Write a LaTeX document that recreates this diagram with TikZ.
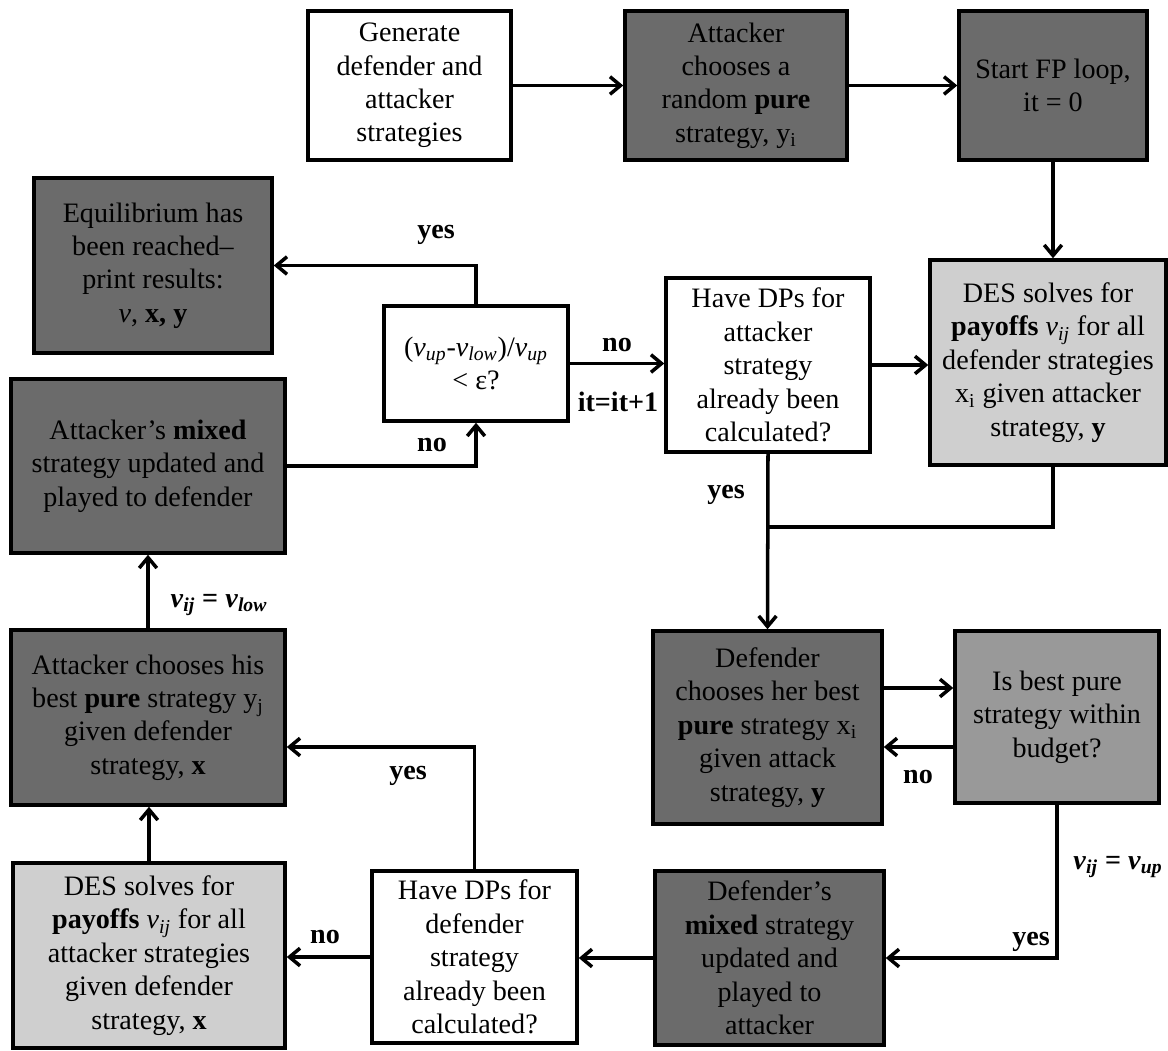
\documentclass[tikz,border=0pt]{standalone}
\usepackage{fontspec}
\setmainfont{Liberation Serif}
\usetikzlibrary{arrows.meta}
\newcommand{\vsub}[1]{\textit{v}\textsubscript{\textit{#1}}}
\definecolor{darkfill}{gray}{0.42}
\definecolor{midfill}{gray}{0.60}
\definecolor{lightfill}{gray}{0.81}
\tikzset{
  box/.style={draw, line width=2pt, align=center, inner sep=1pt, font=\fontsize{16}{19}\selectfont},
  whitebox/.style={box, fill=white},
  darkbox/.style={box, fill=darkfill},
  midbox/.style={box, fill=midfill},
  lightbox/.style={box, fill=lightfill},
  lbl/.style={font=\fontsize{16}{19}\selectfont\bfseries, inner sep=1pt},
  flow/.style={->, line width=2pt}
}

\begin{document}
\begin{tikzpicture}[>={Straight Barb[length=6pt,width=10pt]}]
        \useasboundingbox (0,0) rectangle (23.36,21);

        % Top row
        \node[whitebox, minimum width=4.06cm, minimum height=2.98cm] (gen) at (8.19,19.29) {Generate\\defender and\\attacker\\strategies};
        \node[darkbox, minimum width=4.44cm, minimum height=2.98cm] (atk) at (14.72,19.29) {Attacker\\chooses a\\random \textbf{pure}\\strategy, y\textsubscript{i}};
        \node[darkbox, minimum width=3.76cm, minimum height=2.98cm] (start) at (21.06,19.29) {Start FP loop,\\it = 0};

        % Second row
        \node[darkbox, minimum width=4.76cm, minimum height=3.5cm] (equil) at (3.06,15.69) {Equilibrium has\\been reached–\\print results:\\\textit{v}, \textbf{x, y}};
        \node[whitebox, minimum width=3.68cm, minimum height=2.3cm] (cond) at (9.52,13.73) {(\vsub{up}-\vsub{low})/\vsub{up}\\< ε?};
        \node[whitebox, minimum width=4.08cm, minimum height=3.48cm] (dpa) at (15.36,13.7) {Have DPs for\\attacker\\strategy\\already been\\calculated?};
        \node[lightbox, minimum width=4.72cm, minimum height=4.1cm] (desd) at (20.96,13.75) {DES solves for\\\textbf{payoffs} \vsub{ij} for all\\defender strategies\\x\textsubscript{i} given attacker\\strategy, \textbf{y}};
        \node[darkbox, minimum width=5.48cm, minimum height=3.48cm] (amix) at (2.96,11.68) {Attacker’s \textbf{mixed}\\strategy updated and\\played to defender};

        % Third row
        \node[darkbox, minimum width=5.48cm, minimum height=3.5cm] (abest) at (2.96,6.65) {Attacker chooses his\\best \textbf{pure} strategy y\textsubscript{j}\\given defender\\strategy, \textbf{x}};
        \node[darkbox, minimum width=4.58cm, minimum height=3.86cm] (dbest) at (15.35,6.45) {Defender\\chooses her best\\\textbf{pure} strategy x\textsubscript{i}\\given attack\\strategy, \textbf{y}};
        \node[midbox, minimum width=4.08cm, minimum height=3.44cm] (budget) at (21.14,6.66) {Is best pure\\strategy within\\budget?};

        % Bottom row
        \node[lightbox, minimum width=5.44cm, minimum height=3.7cm] (desa) at (2.98,1.89) {DES solves for\\\textbf{payoffs} \vsub{ij} for all\\attacker strategies\\given defender\\strategy, \textbf{x}};
        \node[whitebox, minimum width=4.1cm, minimum height=3.44cm] (dpd) at (9.49,1.86) {Have DPs for\\defender\\strategy\\already been\\calculated?};
        \node[darkbox, minimum width=4.58cm, minimum height=3.48cm] (dmix) at (15.39,1.84) {Defender’s\\\textbf{mixed} strategy\\updated and\\played to\\attacker};

        % Helper points
        \coordinate (join) at (15.36,10.46); % yes-branch meets DES output
        \coordinate (toBudget) at (21.14,7.24);
        \coordinate (fromBudget) at (21.14,6.06);
        \coordinate (toAbest) at (2.96,6.06);

        % Top row arrows
        \draw[flow] (gen) -- (atk);
        \draw[flow] (atk) -- (start);
        \draw[flow] (start) -- (start |- desd.north);

        % Attacker side of the loop
        \draw[flow] (cond.east) -- (cond.east -| dpa.west);
        \draw[flow] (dpa.east) -- (dpa.east -| desd.west);
        \draw[flow] (cond.north) |- (equil.east);
        \draw[flow] (amix.east) -| (cond.south);
        \draw[line width=2pt] (start |- desd.south) |- (join);
        \draw[flow] (dpa.south) -- (dbest.north);

        % Defender best response and budget check
        \draw[flow] (toBudget -| dbest.east) -- (toBudget -| budget.west);
        \draw[flow] (fromBudget -| budget.west) -- (fromBudget -| dbest.east);
        \draw[flow] (budget.south) |- (dmix.east);

        % Defender side of the loop
        \draw[flow] (dmix.west) -- (dmix.west -| dpd.east);
        \draw[flow] (dpd.west) -- (dpd.west -| desa.east);
        \draw[flow] (dpd.north) |- (toAbest -| abest.east);
        \draw[flow] (desa.north) -- (desa.north |- abest.south);
        \draw[flow] (abest.north) -- (abest.north |- amix.south);

        % Labels
        \node[lbl] (yesEq) at (8.72,16.30) {yes};
        \node[lbl] (noCond) at (12.34,14.1) {no};
        \node[lbl] (itInc) at (12.36,12.96) {it=it+1};
        \node[lbl] (noAmix) at (8.64,12.1) {no};
        \node[lbl] (yesDpa) at (14.52,11.1) {yes};
        \node[lbl] (vLow) at (4.38,8.9) {\vsub{ij} = \vsub{low}};
        \node[lbl] (yesDpd) at (8.16,5.48) {yes};
        \node[lbl] (noBudget) at (18.36,5.46) {no};
        \node[lbl] (vUp) at (22.36,3.66) {\vsub{ij} = \vsub{up}};
        \node[lbl] (yesBudget) at (20.62,2.16) {yes};
        \node[lbl] (noDpd) at (6.5,2.26) {no};
    \end{tikzpicture}
\end{document}
